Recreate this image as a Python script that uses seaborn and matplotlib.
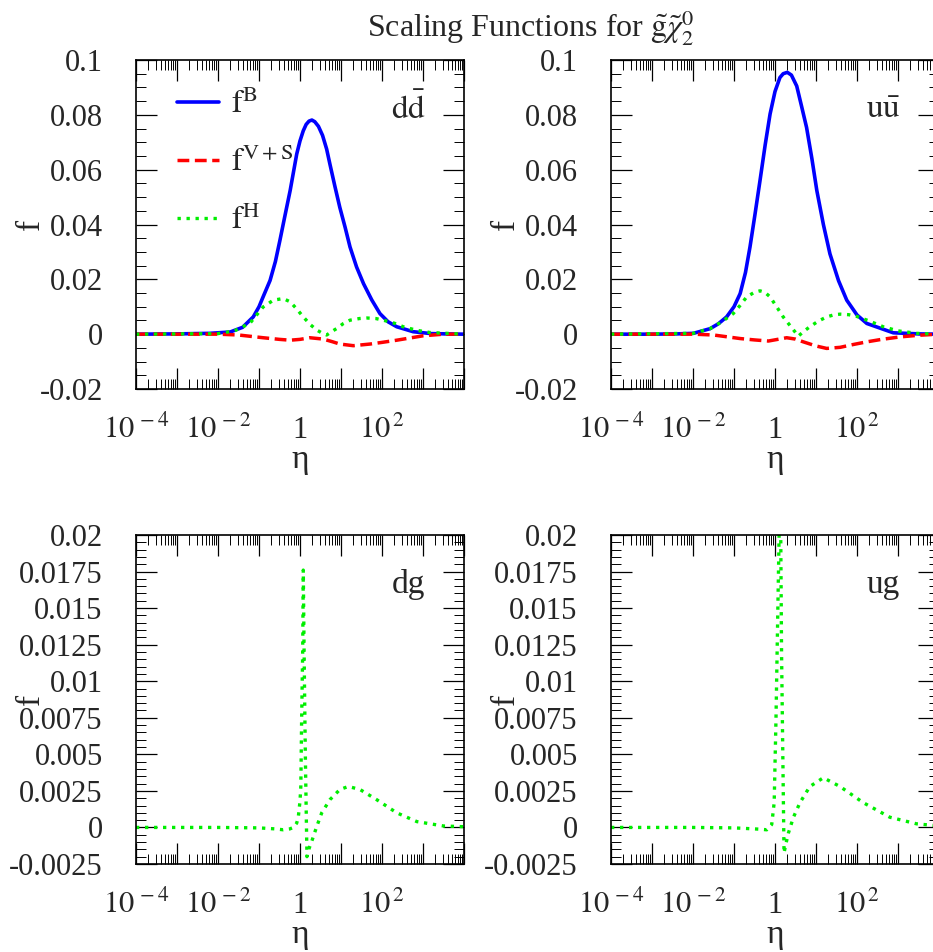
import numpy as np
import pandas as pd
import seaborn as sns
import matplotlib.pyplot as plt
from matplotlib.ticker import LogLocator, NullFormatter, AutoMinorLocator

# log10(eta) sample points and values
DD_B_LOG = [-4.0, -3.0, -2.2, -1.7, -1.4, -1.14, -1.0, -0.9, -0.73, -0.6, -0.49, -0.37, -0.24, -0.08, 0.0,
            0.08, 0.15, 0.22, 0.29, 0.36, 0.45, 0.55, 0.65, 0.73, 0.85, 0.97, 1.1, 1.22, 1.38, 1.55, 1.75,
            1.95, 2.15, 2.36, 2.76, 3.2, 4.0]
DD_B = [0.0, 0.0001, 0.0003, 0.0008, 0.0025, 0.0063, 0.0100, 0.0136, 0.0196, 0.0265, 0.0342, 0.0430,
        0.0524, 0.0657, 0.0705, 0.0742, 0.0765, 0.0777, 0.0781, 0.0775, 0.0758, 0.0725, 0.0675, 0.0620,
        0.0540, 0.0463, 0.0390, 0.0318, 0.0245, 0.0184, 0.0125, 0.0075, 0.0045, 0.0027, 0.0009, 0.0002, 0.0]
DD_VS_LOG = [-4.0, -2.0, -1.5, -0.9, -0.5, -0.24, 0.0, 0.24, 0.57, 0.8, 0.97, 1.3, 1.71, 2.0, 2.36, 3.0, 3.5, 4.0]
DD_VS = [0.0, 0.0, -0.0003, -0.0013, -0.0019, -0.0022, -0.0019, -0.0013, -0.0018, -0.0028, -0.0036, -0.0042,
         -0.0036, -0.003, -0.0022, -0.0006, 0.0, 0.0]
DD_H_LOG = [-4.0, -2.0, -1.6, -1.22, -0.9, -0.65, -0.41, -0.24, -0.08, 0.08, 0.25, 0.41, 0.55, 0.65, 0.8, 0.9,
            1.05, 1.22, 1.45, 1.63, 1.85, 2.03, 2.3, 2.52, 2.85, 3.17, 4.0]
DD_H = [0.0, 0.0002, 0.0012, 0.004, 0.0099, 0.0124, 0.0130, 0.0118, 0.0092, 0.0063, 0.0035, 0.0015, 0.0003,
        -0.0003, 0.0012, 0.0021, 0.0038, 0.0051, 0.0057, 0.0059, 0.0057, 0.0051, 0.0040, 0.0027, 0.0014,
        0.0006, 0.0]

UU_B_LOG = [-4.0, -3.0, -2.4, -1.99, -1.585, -1.38, -1.18, -1.0, -0.85, -0.72, -0.61, -0.49, -0.366, -0.24,
            -0.12, 0.0, 0.12, 0.2, 0.3, 0.4, 0.53, 0.65, 0.77, 0.9, 1.02, 1.18, 1.34, 1.55, 1.75, 2.0, 2.24,
            2.885, 3.5, 4.0]
UU_B = [0.0, 0.0, 0.0001, 0.0003, 0.002, 0.0038, 0.0063, 0.0100, 0.0148, 0.0225, 0.0318, 0.0435, 0.0560,
        0.0690, 0.0803, 0.0885, 0.0936, 0.0950, 0.0955, 0.0945, 0.0905, 0.0830, 0.0754, 0.0640, 0.0524,
        0.0400, 0.0293, 0.0195, 0.0124, 0.0070, 0.0039, 0.0005, 0.0001, 0.0]
UU_VS_LOG = [-4.0, -2.0, -1.5, -0.85, -0.5, -0.16, 0.1, 0.285, 0.5, 0.69, 1.0, 1.26, 1.59, 1.9, 2.24, 2.6,
             3.05, 3.5, 4.0]
UU_VS = [0.0, 0.0, -0.0003, -0.0016, -0.0021, -0.0025, -0.0018, -0.0013, -0.0018, -0.0028, -0.0043, -0.0052,
         -0.0048, -0.0038, -0.0028, -0.0019, -0.001, -0.0004, 0.0]
UU_H_LOG = [-4.0, -2.0, -1.585, -1.3, -1.02, -0.85, -0.69, -0.5, -0.366, -0.25, -0.12, 0.04, 0.2, 0.4, 0.57,
            0.7, 0.85, 1.05, 1.26, 1.45, 1.59, 1.8, 1.99, 2.3, 2.64, 3.0, 3.46, 4.0]
UU_H = [0.0, 0.0003, 0.002, 0.0045, 0.0075, 0.0105, 0.0136, 0.0153, 0.0158, 0.0153, 0.0136, 0.0100, 0.0063,
        0.0025, -0.0007, 0.0010, 0.0027, 0.0047, 0.0063, 0.0071, 0.0073, 0.0071, 0.0065, 0.0048, 0.0027,
        0.0012, 0.0003, 0.0]

DG_H_LOG = [-4.0, -2.0, -1.0, -0.6, -0.41, -0.25, -0.16, -0.08, -0.04, 0.0, 0.02, 0.04, 0.065, 0.08, 0.1,
            0.13, 0.155, 0.17, 0.2, 0.285, 0.4, 0.53, 0.73, 0.975, 1.18, 1.46, 1.87, 2.36, 2.85, 3.5, 4.0]
DG_H = [0.0, 0.0, -0.00003, -0.0001, -0.00016, -0.0001, 0.0, 0.0003, 0.00075, 0.0018, 0.0028, 0.0074, 0.0119,
        0.0176, 0.012, 0.005, 0.0005, -0.002, -0.0016, -0.00096, 0.0, 0.001, 0.0019, 0.0026, 0.0028, 0.0026,
        0.0019, 0.001, 0.0004, 0.0001, 0.00005]

UG_H_LOG = [-4.0, -2.0, -1.0, -0.5, -0.37, -0.2, -0.08, -0.02, 0.024, 0.065, 0.1, 0.12, 0.14, 0.16, 0.2, 0.22,
            0.26, 0.325, 0.45, 0.61, 0.85, 1.18, 1.585, 2.15, 2.8, 3.45, 4.0]
UG_H = [0.0, 0.0, -0.00003, -0.0001, -0.00012, -0.00016, 0.0002, 0.0017, 0.0074, 0.0142, 0.0200, 0.0225,
        0.0200, 0.0119, 0.0028, -0.00175, -0.0012, -0.0004, 0.0007, 0.0017, 0.0028, 0.0034, 0.0028, 0.0017,
        0.0007, 0.00025, 0.0001]

PANEL_LABELS = [r'$\mathrm{d\bar{d}}$', r'$\mathrm{u\bar{u}}$', 'dg', 'ug']
XTICK_LABELS = [r'$10^{\,-4}$', '', r'$10^{\,-2}$', '', '1', '', r'$10^{\,2}$', '', '']
YT_TOP = [-0.02, 0.0, 0.02, 0.04, 0.06, 0.08, 0.1]
YTL_TOP = ['-0.02', '0', '0.02', '0.04', '0.06', '0.08', '0.1']
YT_BOT = [-0.0025, 0.0, 0.0025, 0.005, 0.0075, 0.01, 0.0125, 0.015, 0.0175, 0.02]
YTL_BOT = ['-0.0025', '0', '0.0025', '0.005', '0.0075', '0.01', '0.0125', '0.015', '0.0175', '0.02']

sns.set_style('ticks')
plt.rcParams['font.family'] = ['Liberation Serif', 'DejaVu Serif']
plt.rcParams['mathtext.fontset'] = 'stix'
plt.rcParams['axes.unicode_minus'] = False

BLUE, RED, GREEN = '#0000ff', '#ff0000', '#00ee00'
FS = 22

fig = plt.figure(figsize=(9.33, 9.52), dpi=100)
W, H = 328 / 933, 329 / 952
positions = [(136, 389), (611, 389), (136, 864), (611, 864)]
axes = [fig.add_axes([x / 933, 1 - y / 952, W, H]) for x, y in positions]


def curve(ax, logs, vals, color, ls, lw, label=None):
    df = pd.DataFrame({'eta': 10.0 ** np.array(logs), 'f': vals})
    sns.lineplot(data=df, x='eta', y='f', ax=ax, color=color, linestyle=ls, linewidth=lw,
                 label=label, sort=False, legend=bool(label))


solid, dashed, dotted = '-', (0, (3.4, 1.6)), (0, (1.0, 1.7))

curve(axes[0], DD_B_LOG, DD_B, BLUE, solid, 2.6, r'$\mathrm{f}^{\mathrm{B}}$')
curve(axes[0], DD_VS_LOG, DD_VS, RED, dashed, 2.5, r'$\mathrm{f}^{\mathrm{V+S}}$')
curve(axes[0], DD_H_LOG, DD_H, GREEN, dotted, 2.4, r'$\mathrm{f}^{\mathrm{H}}$')
curve(axes[1], UU_B_LOG, UU_B, BLUE, solid, 2.6)
curve(axes[1], UU_VS_LOG, UU_VS, RED, dashed, 2.5)
curve(axes[1], UU_H_LOG, UU_H, GREEN, dotted, 2.4)
curve(axes[2], DG_H_LOG, DG_H, GREEN, dotted, 2.4)
curve(axes[3], UG_H_LOG, UG_H, GREEN, dotted, 2.4)

for i, ax in enumerate(axes):
    ax.set_xscale('log')
    ax.set_xlim(1e-4, 1e4)
    ax.set_xticks(10.0 ** np.arange(-4, 5), labels=XTICK_LABELS, va='baseline')
    ax.xaxis.set_minor_locator(LogLocator(base=10, subs=np.arange(2, 10), numticks=200))
    ax.xaxis.set_minor_formatter(NullFormatter())
    if i < 2:
        ax.set_ylim(-0.02, 0.1)
        ax.set_yticks(YT_TOP, labels=YTL_TOP)
        ax.yaxis.set_minor_locator(AutoMinorLocator(4))
    else:
        ax.set_ylim(-0.0025, 0.02)
        ax.set_yticks(YT_BOT, labels=YTL_BOT)
        ax.yaxis.set_minor_locator(AutoMinorLocator(5))
    ax.tick_params(which='both', direction='in', top=True, right=True, labelsize=FS, color='black')
    ax.tick_params(which='major', length=15, width=0.9)
    ax.tick_params(which='minor', length=7.5, width=0.7)
    ax.tick_params(axis='y', pad=24)
    ax.tick_params(axis='x', pad=35)
    for s in ax.spines.values():
        s.set_linewidth(1.2)
        s.set_color('black')
    ax.set_xlabel('η', fontsize=FS + 2)
    ax.set_ylabel('f', fontsize=FS + 2)
    ax.xaxis.set_label_coords(0.5, -0.17)
    ax.yaxis.set_label_coords(-0.275, 0.5)
    ax.text(0.83, 0.85, PANEL_LABELS[i], transform=ax.transAxes, fontsize=FS + 2, ha='center', va='center')

axes[0].legend(loc='upper left', bbox_to_anchor=(0.125, 0.91), frameon=False, fontsize=FS + 1,
               handlelength=1.3, handletextpad=0.4, labelspacing=0.85, borderpad=0, borderaxespad=0)

fig.text(0.569, 1 - 37 / 952, r'Scaling Functions for $\tilde{\mathrm{g}}\tilde{\chi}_2^0$',
         fontsize=FS + 1, ha='center', va='baseline')

fig.savefig('out.png', dpi=100)
